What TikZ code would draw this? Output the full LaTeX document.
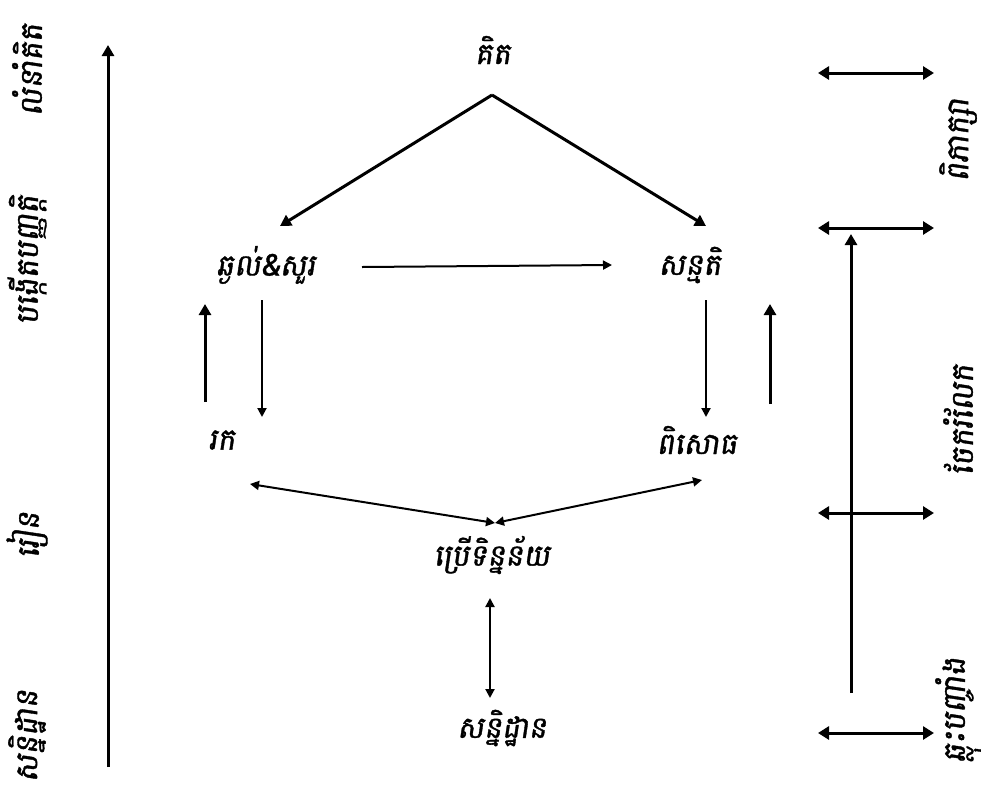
\documentclass[tikz,border=0pt]{standalone}
\usepackage{fontspec}
\newfontfamily\khmer[Script=Khmer,FakeSlant=0.15,FakeBold=1.2]{Battambang}
\usetikzlibrary{arrows.meta}
\begin{document}
\begin{tikzpicture}[x=1pt,y=-1pt,
  lbl/.style={font=\khmer\fontsize{30}{34}\selectfont, inner sep=1pt},
  side/.style={font=\khmer\fontsize{31}{34}\selectfont, rotate=90, inner sep=1pt},
  thk/.style={line width=3pt, -{Triangle[length=11pt,width=12pt]}},
  thn/.style={line width=2pt, -{Triangle[length=9pt,width=9pt]}},
  dbl/.style={line width=3pt, {Triangle[length=11pt,width=13pt]}-{Triangle[length=11pt,width=13pt]}},
  dbn/.style={line width=2pt, {Triangle[length=9pt,width=9pt]}-{Triangle[length=9pt,width=9pt]}}]
\useasboundingbox (0,0) rectangle (994,804);
% nodes
\node[lbl] (think) at (493,50) {គិត};
\node[lbl] (wonder) at (266,265) {ឆ្ងល់\&សួរ};
\node[lbl] (hyp) at (690,265) {សន្មតិ};
\node[lbl] (find) at (222,440) {រក};
\node[lbl] (exp) at (697,440) {ពិសោធ};
\node[lbl] (data) at (492,555) {ប្រើទិន្នន័យ};
\node[lbl] (conc) at (502,728) {សន្និដ្ឋាន};
% side labels
\node[side] (l1) at (27,70) {លំនាំគិត};
\node[side] (l2) at (27,260) {បង្កើតបញ្ញត្តិ};
\node[side] (l3) at (27,535) {រៀន};
\node[side] (l4) at (27,736) {សន្និដ្ឋាន};
\node[side] (r1) at (958,140) {ពិភាក្សា};
\node[side] (r2) at (958,420) {ចែករំលែក};
\node[side] (r3) at (958,710) {ឆ្លុះបញ្ចាំង};
% coordinates
\coordinate (apex) at (492,95);
\coordinate (wa) at (280,226);
\coordinate (ha) at (706,226);
\coordinate (h1) at (362,267);
\coordinate (h2) at (612,265);
\coordinate (d1s) at (262,300);
\coordinate (d1e) at (262,417);
\coordinate (u1s) at (205,402);
\coordinate (u1e) at (205,304);
\coordinate (d2s) at (706,300);
\coordinate (d2e) at (706,417);
\coordinate (u2s) at (770,404);
\coordinate (u2e) at (770,304);
\coordinate (fa) at (250,484);
\coordinate (ca) at (495,523);
\coordinate (ea) at (702,480);
\coordinate (v1) at (490,598);
\coordinate (v2) at (490,698);
\coordinate (L1) at (108,767);
\coordinate (L2) at (108,45);
\coordinate (R1) at (851,693);
\coordinate (R2) at (851,234);
\foreach \y/\n in {73/a,228/b,513/c,733/d}{
  \coordinate (s\n1) at (818,\y);
  \coordinate (s\n2) at (934,\y);
}
% connectors
\draw[thk] (apex) -- (wa);
\draw[thk] (apex) -- (ha);
\draw[thn] (h1) -- (h2);
\draw[thn] (d1s) -- (d1e);
\draw[thk] (u1s) -- (u1e);
\draw[thn] (d2s) -- (d2e);
\draw[thk] (u2s) -- (u2e);
\draw[dbn] (fa) -- (ca);
\draw[dbn] (ca) -- (ea);
\draw[dbn] (v1) -- (v2);
\draw[thk] (L1) -- (L2);
\draw[thk] (R1) -- (R2);
\foreach \n in {a,b,c,d}{\draw[dbl] (s\n1) -- (s\n2);}
\end{tikzpicture}
\end{document}
